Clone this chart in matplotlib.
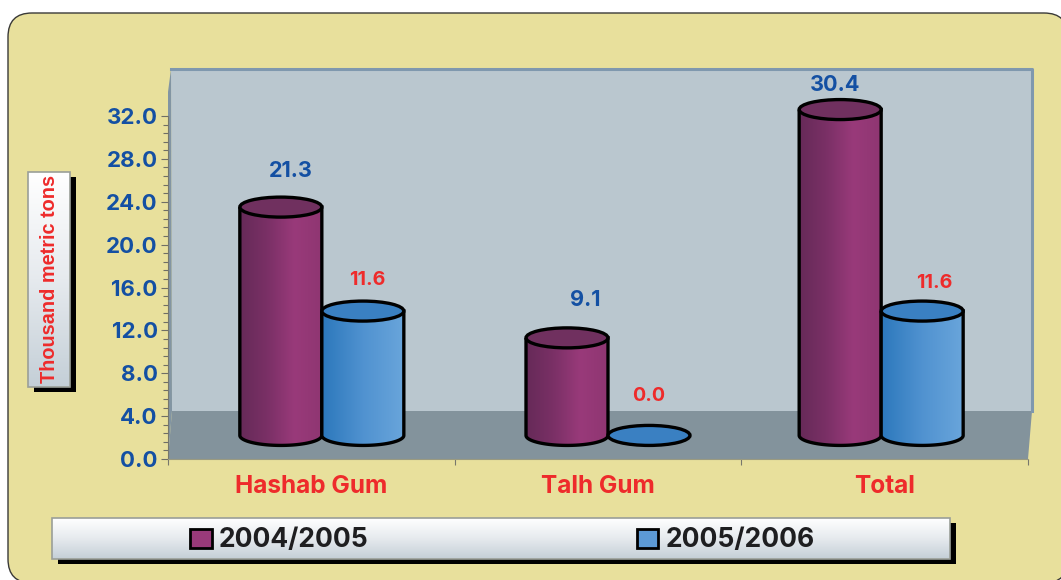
import numpy as np
import matplotlib
matplotlib.use("Agg")
import matplotlib.pyplot as plt
from matplotlib.patches import FancyBboxPatch, Rectangle, Polygon, PathPatch, Ellipse
from matplotlib.path import Path
from matplotlib.colors import LinearSegmentedColormap
from matplotlib.ticker import FormatStrFormatter

categories = ["Hashab Gum", "Talh Gum", "Total"]
series_names = ["2004/2005", "2005/2006"]
values_2004 = [21.3, 9.1, 30.4]
values_2005 = [11.6, 0.0, 11.6]
y_label = "Thousand metric tons"

W, H = 1061, 580
BLUE = "#1450A3"
RED = "#EE2B2B"
FLOOR = 2.2               # data units the 3-D floor lifts each cylinder
group_shift = [10.5, 10, -3.5]   # px
label_dx_a = [10, 18, -5]
label_dy_a = [36, 38, 25]
label_dx_b = [4, 0, 12]
label_dy_b = [31, 39, 28]

cm_a = LinearSegmentedColormap.from_list("a", ["#662A58", "#7A3066", "#993A7A", "#8F3672"])
cm_b = LinearSegmentedColormap.from_list("b", ["#2C78BC", "#5092D0", "#69A5DB"])
cm_box = LinearSegmentedColormap.from_list("g", ["#FFFFFF", "#E6EAEE", "#C4CFD7"])

plt.rcParams["font.family"] = ["Inter", "DejaVu Sans"]
fig = plt.figure(figsize=(W / 100, H / 100), dpi=100, facecolor="white")

# pixel-space backdrop
bg = fig.add_axes([0, 0, 1, 1], zorder=0)
bg.set_xlim(0, W); bg.set_ylim(H, 0); bg.axis("off")
bg.add_patch(FancyBboxPatch((8, 13), 1060, 570, boxstyle="round,pad=0,rounding_size=24",
                            fc="#E8E09C", ec="#3A3A38", lw=1.0))

def grad_box(ax, x0, y0, x1, y1, shadow=5):
    ax.add_patch(Rectangle((x0 + shadow + 1, y0 + shadow), x1 - x0, y1 - y0, fc="black", ec="none"))
    g = np.linspace(0, 1, 128)[:, None]
    ax.imshow(g, extent=[x0, x1, y1, y0], cmap=cm_box, aspect="auto", zorder=2)
    ax.add_patch(Rectangle((x0, y0), x1 - x0, y1 - y0, fc="none", ec="#9A9F98", lw=1.2, zorder=3))

grad_box(bg, 28, 172, 70, 387)
grad_box(bg, 52, 518, 950, 559)
bg.set_xlim(0, W); bg.set_ylim(H, 0)

# wall / floor
bg.add_patch(Polygon([(171, 69), (1032, 69), (1032, 411), (172, 411)], fc="#BAC7CF", ec="none", zorder=1))
bg.add_patch(Polygon([(172, 411), (1032, 411), (1028, 459), (168, 459)], fc="#83939C", ec="none", zorder=1))
bg.add_patch(Polygon([(171, 69), (172, 411), (168, 459), (168, 92)], fc="#8295A3", ec="none", zorder=1))
bg.plot([171, 1032, 1032], [69, 69, 411], color="#7F98AE", lw=2.2, zorder=1.5)

# chart axes: y 0 at px 459, 32 at px 116
PX = (459 - 116) / 32
y_top = (459 - 68) / PX
ax = fig.add_axes([168 / W, 1 - 459 / H, 860 / W, (459 - 68) / H], zorder=2)
ax.patch.set_alpha(0)
ax.set_xlim(0, 3); ax.set_ylim(0, y_top)
for s in ["top", "right"]:
    ax.spines[s].set_visible(False)
ax.spines["left"].set_bounds(0, 32)
ax.spines["left"].set_color("#77776C"); ax.spines["bottom"].set_color("#9A9A80")
ax.set_yticks(np.arange(0, 33, 4))
ax.set_yticks(np.arange(0, 32.01, 0.8), minor=True)
ax.yaxis.set_major_formatter(FormatStrFormatter("%.1f"))
ax.tick_params(axis="y", which="major", length=5.3, width=0.8, color="#6E6E66", labelcolor=BLUE, labelsize=16, pad=2)
ax.tick_params(axis="y", which="minor", length=3.6, width=0.8, color="#6E6E66")
for t in ax.get_yticklabels():
    t.set_fontweight("bold")
ax.set_xticks([0, 1, 2, 3])
ax.set_xticklabels([])
ax.tick_params(axis="x", length=4.5, color="#77776C")
ax.set_xticks(np.arange(len(categories)) + 0.5, minor=True)
ax.set_xticklabels(categories, minor=True, color=RED, fontsize=17.6, fontweight="bold")
ax.tick_params(axis="x", which="minor", length=0, pad=11.5)

UX = 860 / 3               # px per category
BW = 82 / UX               # cylinder width in category units
RY = 10 / PX               # ellipse half-height in data units

def cylinder(ax, xc, value, cmap, face_top, z=3):
    base = FLOOR
    top = value + FLOOR
    xl, xr = xc - BW / 2, xc + BW / 2
    if value > 0:
        im = ax.imshow(np.linspace(0, 1, 128)[None, :], extent=[xl, xr, base - RY, top], cmap=cmap,
                       aspect="auto", zorder=z)
        t = np.linspace(np.pi, 2 * np.pi, 60)
        verts = [(xl, top)] + list(zip(xc + BW / 2 * np.cos(t), base + RY * np.sin(t))) + [(xr, top), (xl, top)]
        clip = PathPatch(Path(verts), fc="none", ec="black", lw=2.4, zorder=z + 0.1)
        ax.add_patch(clip)
        im.set_clip_path(clip)
    ax.add_patch(Ellipse((xc, top), BW, 2 * RY, fc=face_top, ec="black", lw=2.4, zorder=z + 0.2))

for i in range(len(categories)):
    gc = i + 0.5 + group_shift[i] / UX
    cylinder(ax, gc - BW / 2, values_2004[i], cm_a, "#70305F")
    cylinder(ax, gc + BW / 2, values_2005[i], cm_b, "#3A80C2", z=4)
    ax.annotate(f"{values_2004[i]:.1f}", (gc - BW / 2, values_2004[i] + FLOOR),
                xytext=(label_dx_a[i] * .72, label_dy_a[i] * .72), textcoords="offset points",
                ha="center", va="center", color=BLUE, fontsize=15.6, fontweight="bold", zorder=6)
    ax.annotate(f"{values_2005[i]:.1f}", (gc + BW / 2, values_2005[i] + FLOOR),
                xytext=(label_dx_b[i] * .72, label_dy_b[i] * .72), textcoords="offset points",
                ha="center", va="center", color=RED, fontsize=14.2, fontweight="bold", zorder=6)
ax.set_xlim(0, 3); ax.set_ylim(0, y_top)

# y title and legend
bg.text(50, 279, y_label, rotation=90, ha="center", va="center", color=RED,
        fontsize=14.3, fontweight="bold", family="Liberation Sans", zorder=5)

handles = [Rectangle((0, 0), 1, 1, fc=c, ec="black", lw=2) for c in ["#993A7A", "#5C9AD6"]]
leg = fig.legend(handles, series_names, ncol=2, frameon=False,
                 loc="center left", bbox_to_anchor=(190 / W, 1 - 540.5 / H),
                 prop={"family": "Inter", "weight": "bold", "size": 19},
                 labelcolor="#1E1E20", handlelength=0.82, handleheight=0.7, handletextpad=0.28,
                 columnspacing=10.15, borderpad=0, borderaxespad=0)
leg.set_zorder(10)

fig.savefig("out.png", dpi=100, facecolor="white")
